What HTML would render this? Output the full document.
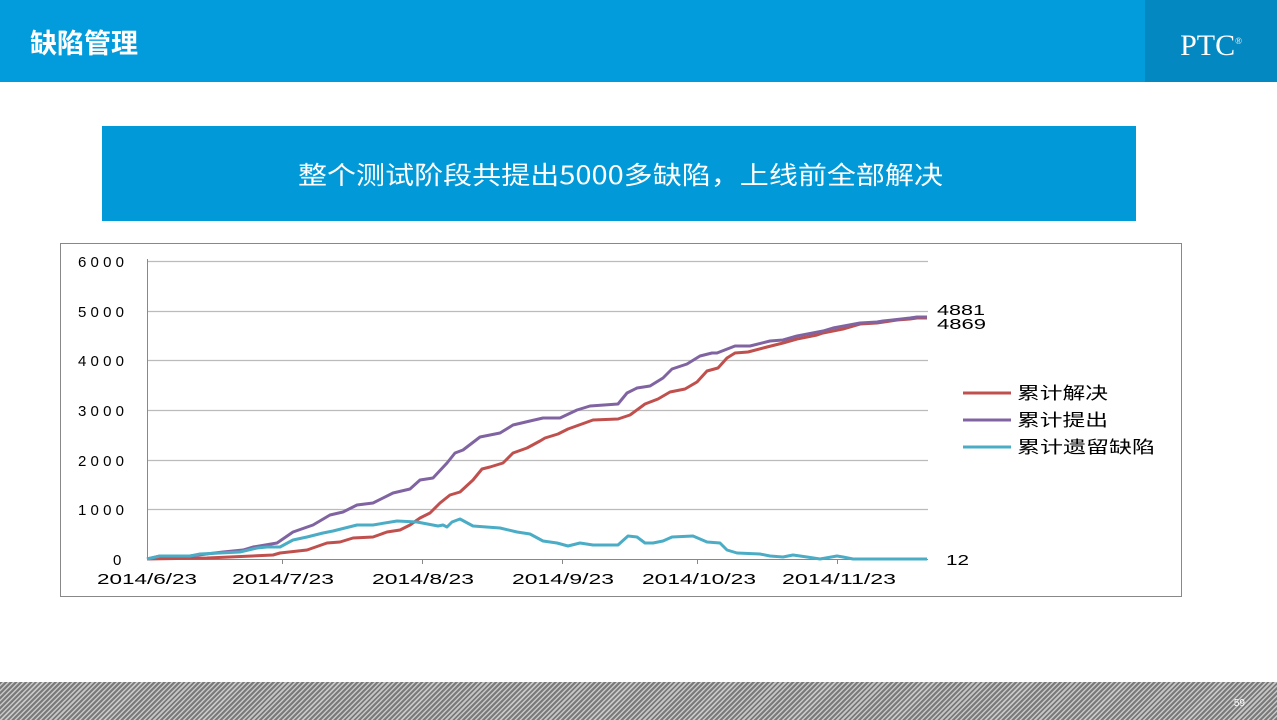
<!DOCTYPE html>
<html><head><meta charset="utf-8"><style>
body{margin:0;width:1277px;height:720px;position:relative;background:#fff;overflow:hidden;font-family:"Liberation Sans","Noto Sans CJK SC",sans-serif}
.hdr{position:absolute;left:0;top:0;width:1277px;height:82px;background:#029cdc}
.logo{position:absolute;left:1145px;top:0;width:132px;height:82px;background:#0388c2;color:#fff;font-family:"Liberation Serif",serif;font-size:30px;line-height:82px;text-align:center}
.ht{position:absolute;left:30px;top:22px;color:#fff;font-size:27px;font-weight:bold;font-family:"Noto Sans CJK SC",sans-serif}
.tb{position:absolute;left:102px;top:126px;width:1034px;height:95px;background:#0299d8}
.stripe{position:absolute;left:0;top:682px;width:1277px;height:38px;background:repeating-linear-gradient(135deg,#7a7a7a 0 2px,#c8c8c8 2px 3.5px)}
.pn{position:absolute;right:32px;top:698px;color:#fff;font-size:10px}
</style></head><body>
<div class="hdr"><div class="ht">缺陷管理</div><div class="logo">PTC<sup style="font-size:9px">®</sup></div></div>
<div class="tb"></div>
<svg style="position:absolute;left:0;top:0" width="1277" height="720" font-family="Liberation Sans, Noto Sans CJK SC, sans-serif" font-size="15">
<text x="298" y="184" font-size="25" fill="#fff" textLength="645" lengthAdjust="spacingAndGlyphs" font-family="Noto Sans CJK SC, sans-serif">整个测试阶段共提出5000多缺陷，上线前全部解决</text>
<rect x="60.5" y="243.5" width="1121" height="353" fill="#fff" stroke="#888"/>
<g stroke="#bbb" stroke-width="1.2">
<line x1="147" y1="261.5" x2="928" y2="261.5"/><line x1="147" y1="311.5" x2="928" y2="311.5"/><line x1="147" y1="360.5" x2="928" y2="360.5"/><line x1="147" y1="410.5" x2="928" y2="410.5"/><line x1="147" y1="460.5" x2="928" y2="460.5"/><line x1="147" y1="509.5" x2="928" y2="509.5"/>
</g>
<g stroke="#888" stroke-width="1">
<line x1="147.5" y1="259" x2="147.5" y2="560"/>
<line x1="147" y1="559.5" x2="928" y2="559.5"/>
<line x1="282.5" y1="559" x2="282.5" y2="564"/><line x1="422.5" y1="559" x2="422.5" y2="564"/><line x1="562.5" y1="559" x2="562.5" y2="564"/><line x1="697.5" y1="559" x2="697.5" y2="564"/><line x1="837.5" y1="559" x2="837.5" y2="564"/>
</g>
<g fill="#000" lengthAdjust="spacingAndGlyphs">
<text x="78" y="267" textLength="46">6000</text><text x="78" y="317" textLength="46">5000</text><text x="78" y="366" textLength="46">4000</text><text x="78" y="416" textLength="46">3000</text><text x="78" y="466" textLength="46">2000</text><text x="78" y="515" textLength="46">1000</text><text x="113" y="565" textLength="11">0</text>
</g>
<g fill="#000">
<text x="97" y="584" textLength="100" lengthAdjust="spacingAndGlyphs">2014/6/23</text>
<text x="232" y="584" textLength="102" lengthAdjust="spacingAndGlyphs">2014/7/23</text>
<text x="372" y="584" textLength="102" lengthAdjust="spacingAndGlyphs">2014/8/23</text>
<text x="512" y="584" textLength="102" lengthAdjust="spacingAndGlyphs">2014/9/23</text>
<text x="642" y="584" textLength="114" lengthAdjust="spacingAndGlyphs">2014/10/23</text>
<text x="782" y="584" textLength="114" lengthAdjust="spacingAndGlyphs">2014/11/23</text>
<text x="937" y="315" textLength="48" lengthAdjust="spacingAndGlyphs">4881</text>
<text x="937" y="329" textLength="49" lengthAdjust="spacingAndGlyphs">4869</text>
<text x="946" y="565" textLength="23" lengthAdjust="spacingAndGlyphs">12</text>
</g>
<g fill="none" stroke-width="3" stroke-linejoin="round">
<polyline stroke="#c0504d" points="147,559 207,558 273,555 280,553 307,550 327,543 340,542 353,538 373,537 387,532 400,530 410,525 420,518 430,513 440,503 450,495 460,492 473,480 482,469 490,467 503,463 513,453 527,448 540,441 545,438 558,434 568,429 593,420 618,419 630,415 645,404 658,399 670,392 685,389 697,382 707,371 718,368 727,358 735,353 748,352 767,347 783,343 797,339 817,335 823,333 843,329 860,324 877,323 897,320 910,319 917,318 927,318"/>
<polyline stroke="#8064a2" points="147,559 160,556 190,556 223,552 243,550 253,547 277,543 293,532 313,525 330,515 343,512 357,505 373,503 393,493 410,489 420,480 433,478 447,463 455,453 463,450 480,437 500,433 513,425 530,421 543,418 560,418 577,410 590,406 618,404 627,393 637,388 650,386 663,378 672,369 687,364 700,356 712,353 717,353 735,346 750,346 770,341 783,340 797,336 823,331 833,328 860,323 877,322 883,321 910,318 917,317 927,317"/>
<polyline stroke="#4bacc6" points="147,559 160,556 190,556 200,554 240,552 257,548 267,547 280,547 293,540 307,537 323,533 333,531 357,525 373,525 397,521 417,522 438,526 443,525 447,527 452,522 460,519 473,526 500,528 517,532 530,534 543,541 557,543 568,546 580,543 593,545 618,545 628,536 637,537 645,543 653,543 663,541 672,537 693,536 707,542 720,543 727,550 737,553 760,554 770,556 783,557 793,555 807,557 820,559 837,556 843,557 853,559 927,559"/>
</g>
<g stroke-width="3">
<line x1="963" y1="393" x2="1011" y2="393" stroke="#c0504d"/>
<line x1="963" y1="420" x2="1011" y2="420" stroke="#8064a2"/>
<line x1="963" y1="447" x2="1011" y2="447" stroke="#4bacc6"/>
</g>
<g font-size="17" fill="#000">
<text x="1017" y="399" textLength="91" lengthAdjust="spacingAndGlyphs">累计解决</text>
<text x="1017" y="426" textLength="91" lengthAdjust="spacingAndGlyphs">累计提出</text>
<text x="1017" y="453" textLength="138" lengthAdjust="spacingAndGlyphs">累计遗留缺陷</text>
</g>
</svg>
<div class="stripe"></div><div class="pn">59</div>
</body></html>
